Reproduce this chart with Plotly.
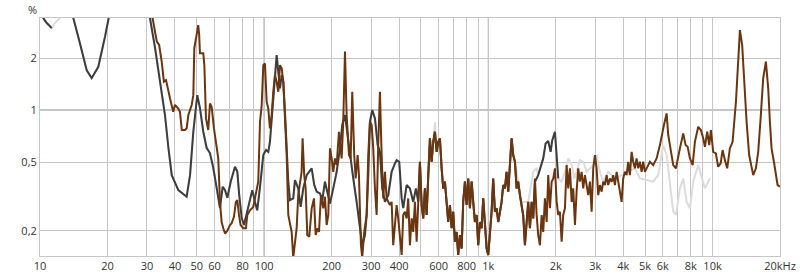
import plotly.graph_objects as go

# ---------------- data (frequency in Hz, distortion in %) ----------------
# light gray measurement: first dip at 10-12 Hz
light_start = [(10.2, 3.7), (10.35, 3.4), (10.75, 3.18), (11.28, 2.98), (11.67, 3.2),
               (12.28, 3.41), (12.5, 3.7)]
# dark gray measurement: first dip at 10-11 Hz
dark_start = [(10.2, 3.7), (10.35, 3.4), (10.75, 3.18), (11.28, 2.98)]

# common part of dark / light gray 14 Hz - 20 Hz
gray_dip = [(13.9, 3.7), (14.08, 3.41), (15.08, 2.43), (16.16, 1.70), (17.0, 1.53),
            (18.2, 1.78), (19.5, 2.66), (20.2, 3.4), (20.5, 3.7)]

# common part of dark / light gray 30 Hz - 475 Hz
gray_low = [(30.5, 3.7), (30.95, 3.40), (32.6, 2.29), (34.3, 1.45), (36.1, 0.936),
            (37.4, 0.603), (38.7, 0.420), (41.4, 0.344), (45.1, 0.315), (46.7, 0.420),
            (48.3, 0.749), (50.3, 1.22), (51.7, 1.03), (53.5, 0.749), (55.4, 0.603),
            (57.3, 0.564), (59.3, 0.462), (61.4, 0.353), (63.5, 0.271), (65.3, 0.360),
            (66.9, 0.344), (68.5, 0.311), (70.9, 0.385), (74.1, 0.470), (75.9, 0.439),
            (77.4, 0.322), (79.4, 0.237), (81.3, 0.216), (83.5, 0.247), (86.4, 0.294),
            (88.5, 0.344), (91.0, 0.294), (93.1, 0.263), (95.7, 0.353), (99.1, 0.549),
            (101.9, 0.587), (104.3, 0.573), (106.1, 0.655), (108.6, 0.936), (111.7, 1.595),
            (113.7, 2.08), (115.6, 1.667), (117.6, 1.335), (119.7, 1.595), (121.7, 1.458),
            (123.8, 0.978), (126.0, 0.603), (128.1, 0.385), (130.3, 0.301), (134.8, 0.308),
            (137.2, 0.393), (141.9, 0.352), (145.5, 0.275), (149.4, 0.352), (154.7, 0.420),
            (162.9, 0.460), (167.3, 0.368), (171.5, 0.337), (177.4, 0.329), (181.6, 0.301),
            (186.7, 0.385), (193.2, 0.322), (196.6, 0.288), (203.3, 0.352), (210.5, 0.439),
            (217.8, 0.600), (223.0, 0.819), (229.3, 0.936), (233.3, 0.783), (241.3, 0.549),
            (249.7, 0.402), (258.5, 0.294), (267.5, 0.207), (273.8, 0.165), (281.6, 0.189),
            (286.5, 0.247), (291.3, 0.420), (296.4, 0.856), (303.5, 1.0), (312.0, 0.895),
            (320.8, 0.627), (328.4, 0.573), (336.3, 0.352), (345.7, 0.294), (357.7, 0.322),
            (370.3, 0.439), (383.1, 0.491), (389.8, 0.513), (400.4, 0.502), (410.4, 0.308),
            (417.2, 0.271), (432.1, 0.368), (446.9, 0.352), (462.3, 0.294), (475.3, 0.352)]

# brown measurement 31 Hz - 480 Hz
brown_low = [(31.3, 3.7), (31.8, 3.40), (33.2, 2.49), (34.0, 2.38), (34.9, 1.91),
             (35.7, 1.46), (36.5, 1.49), (37.0, 1.36), (38.0, 1.17), (39.3, 0.978),
             (40.0, 1.07), (41.4, 1.02), (42.1, 0.978), (42.9, 0.766), (44.3, 0.766),
             (45.1, 0.783), (45.9, 0.936), (47.5, 1.07), (48.3, 1.22), (48.8, 2.28),
             (50.0, 2.72), (50.8, 3.10), (51.3, 2.72), (51.7, 2.13), (53.5, 2.13),
             (54.1, 1.82), (55.0, 0.895), (56.3, 0.766), (57.3, 1.09), (58.3, 1.045),
             (59.7, 0.783), (61.4, 0.600), (62.4, 0.525), (63.5, 0.294), (64.6, 0.225),
             (65.7, 0.207), (66.9, 0.193), (68.5, 0.200), (70.4, 0.216), (71.6, 0.221),
             (73.3, 0.241), (74.8, 0.294), (75.9, 0.301), (77.2, 0.247), (78.5, 0.216),
             (80.7, 0.207), (82.9, 0.207), (84.1, 0.247), (86.4, 0.263), (89.4, 0.275),
             (91.9, 0.322), (94.1, 0.385), (95.8, 0.856), (97.5, 1.07), (99.1, 1.82),
             (100.8, 1.86), (102.6, 1.117), (104.3, 1.023), (106.1, 0.783), (108.0, 0.936),
             (109.8, 1.276), (111.7, 1.595), (113.7, 1.458), (115.6, 1.276), (117.6, 1.82),
             (119.7, 1.744), (121.7, 1.458), (123.8, 0.978), (126.0, 0.549), (128.1, 0.247),
             (130.3, 0.225), (132.6, 0.197), (134.8, 0.14), (137.2, 0.165), (139.6, 0.207),
             (141.9, 0.322), (144.4, 0.385), (146.9, 0.439), (148.4, 0.686), (150.9, 0.420),
             (153.1, 0.352), (155.7, 0.189), (158.9, 0.185), (162.9, 0.270), (166.8, 0.308),
             (169.7, 0.189), (173.2, 0.207), (175.6, 0.197), (179.2, 0.322), (183.5, 0.270),
             (186.7, 0.315), (190.0, 0.216), (193.2, 0.247), (196.6, 0.600), (200.0, 0.525),
             (203.3, 0.439), (206.9, 0.525), (210.5, 0.480), (215.6, 0.749), (221.6, 0.525),
             (225.3, 0.856), (229.3, 2.18), (233.3, 0.936), (238.9, 0.549), (243.1, 0.525),
             (247.1, 1.276), (252.2, 0.549), (255.9, 0.402), (261.2, 0.549), (264.7, 0.420),
             (270.2, 0.165), (273.8, 0.14), (279.5, 0.197), (286.5, 0.247), (291.3, 0.549),
             (296.4, 0.856), (301.6, 0.819), (306.6, 0.600), (312.0, 0.352), (317.4, 0.247),
             (322.7, 0.627), (328.4, 1.276), (334.2, 0.549), (339.7, 0.308), (345.7, 0.439),
             (351.8, 0.308), (363.9, 0.282), (370.3, 0.294), (376.4, 0.165), (383.1, 0.207),
             (389.8, 0.282), (396.3, 0.236), (403.3, 0.189), (410.4, 0.145), (417.2, 0.247),
             (424.6, 0.258), (432.1, 0.236), (439.2, 0.308), (446.9, 0.165), (454.8, 0.236),
             (462.3, 0.197), (470.5, 0.294), (478.8, 0.173)]

# common part of all three measurements 487 Hz - 568 Hz
mid_a = [(486.7, 0.294), (495.3, 0.502), (504.0, 0.282), (512.3, 0.236), (521.3, 0.352),
         (530.5, 0.247), (539.3, 0.420), (548.8, 0.686), (558.5, 0.502), (567.7, 0.655)]

# 600 Hz peak
brown_peak600 = [(577.7, 0.749)]
light_peak600 = [(577.7, 0.85)]

# common part of all three measurements 588 Hz - 1.3 kHz
mid_b = [(587.9, 0.573), (597.6, 0.655), (608.1, 0.686), (618.8, 0.460), (629.0, 0.352),
         (640.1, 0.385), (651.4, 0.294), (662.2, 0.225), (673.9, 0.282), (685.8, 0.207),
         (697.1, 0.258), (709.4, 0.173), (721.9, 0.197), (733.8, 0.145), (746.8, 0.189),
         (760.0, 0.158), (772.5, 0.294), (786.2, 0.385), (800.0, 0.282), (813.3, 0.402),
         (827.6, 0.270), (842.2, 0.385), (856.1, 0.294), (871.3, 0.225), (886.6, 0.247),
         (901.3, 0.165), (917.2, 0.225), (933.3, 0.207), (948.8, 0.308), (965.4, 0.207),
         (982.4, 0.158), (998.9, 0.145), (1016, 0.197), (1034, 0.258), (1051, 0.402),
         (1070, 0.258), (1089, 0.270), (1107, 0.225), (1127, 0.258), (1146, 0.294),
         (1165, 0.368), (1186, 0.352), (1206, 0.439), (1227, 0.337), (1248, 0.480),
         (1270, 0.686), (1291, 0.549), (1314, 0.502)]

# dark gray measurement 1.3 kHz - 2 kHz
dark_high = [(1337, 0.352), (1359, 0.385), (1383, 0.322), (1407, 0.270), (1430, 0.247),
             (1456, 0.165), (1482, 0.225), (1506, 0.294), (1533, 0.207), (1560, 0.294),
             (1586, 0.236), (1614, 0.385), (1669, 0.420), (1757, 0.525), (1801, 0.641),
             (1850, 0.662), (1896, 0.573), (1928, 0.670), (1982, 0.749), (2017, 0.549),
             (2050, 0.402)]

# light gray measurement 1.4 kHz - 10 kHz
light_high = [(1407, 0.294), (1506, 0.294), (1586, 0.439), (1642, 0.462), (1669, 0.420),
              (1757, 0.525), (1801, 0.641), (1850, 0.662), (1896, 0.573), (1928, 0.670),
              (1982, 0.749), (2017, 0.549), (2050, 0.402), (2123, 0.385), (2196, 0.439),
              (2272, 0.525), (2353, 0.480), (2416, 0.402), (2476, 0.439), (2561, 0.513),
              (2650, 0.502), (2744, 0.439), (2839, 0.460), (2937, 0.480), (3041, 0.549),
              (3146, 0.439), (3254, 0.385), (3425, 0.439), (3670, 0.402), (3931, 0.420),
              (4206, 0.439), (4506, 0.460), (4743, 0.402), (5082, 0.393), (5438, 0.385),
              (5727, 0.420), (6027, 0.627), (6242, 0.549), (6457, 0.385), (6679, 0.258),
              (6867, 0.247), (7154, 0.352), (7400, 0.402), (7665, 0.294), (7930, 0.270),
              (8200, 0.385), (8633, 0.480), (8941, 0.402), (9249, 0.352), (9732, 0.402)]

# brown measurement 1.3 kHz - 20 kHz
brown_high = [(1337, 0.352), (1359, 0.385), (1383, 0.322), (1407, 0.270), (1430, 0.247),
              (1456, 0.165), (1482, 0.225), (1506, 0.294), (1533, 0.207), (1560, 0.294),
              (1586, 0.236), (1614, 0.402), (1642, 0.247), (1669, 0.189), (1699, 0.165),
              (1729, 0.247), (1757, 0.197), (1788, 0.308), (1820, 0.225), (1850, 0.420),
              (1883, 0.270), (1916, 0.385), (1948, 0.402), (1982, 0.460), (2017, 0.294),
              (2050, 0.247), (2086, 0.258), (2123, 0.173), (2158, 0.247), (2196, 0.270),
              (2235, 0.480), (2272, 0.352), (2312, 0.460), (2353, 0.294), (2391, 0.352),
              (2434, 0.216), (2476, 0.337), (2517, 0.460), (2561, 0.385), (2607, 0.439),
              (2650, 0.352), (2697, 0.420), (2744, 0.368), (2789, 0.322), (2839, 0.385),
              (2889, 0.258), (2937, 0.460), (2989, 0.549), (3041, 0.460), (3091, 0.322),
              (3146, 0.368), (3201, 0.337), (3254, 0.385), (3311, 0.368), (3370, 0.420),
              (3425, 0.368), (3486, 0.402), (3548, 0.385), (3606, 0.420), (3670, 0.368),
              (3735, 0.439), (3796, 0.385), (3863, 0.322), (3931, 0.294), (3996, 0.402),
              (4066, 0.439), (4138, 0.420), (4206, 0.502), (4280, 0.420), (4356, 0.573),
              (4428, 0.502), (4506, 0.460), (4585, 0.525), (4661, 0.460), (4743, 0.502),
              (4827, 0.439), (4906, 0.502), (4993, 0.439), (5082, 0.460), (5257, 0.502),
              (5438, 0.480), (5631, 0.525), (5826, 0.627), (5929, 0.717), (6072, 0.819),
              (6242, 0.957), (6345, 0.717), (6457, 0.627), (6571, 0.549), (6679, 0.480),
              (6867, 0.460), (7030, 0.525), (7154, 0.600), (7400, 0.733), (7586, 0.627),
              (7745, 0.613), (7930, 0.525), (8153, 0.480), (8346, 0.655), (8633, 0.800),
              (8877, 0.766), (9088, 0.686), (9249, 0.613), (9471, 0.749), (9667, 0.627),
              (9837, 0.766), (10070, 0.573), (10350, 0.562), (10600, 0.470), (10870, 0.491),
              (11090, 0.587), (11360, 0.513), (11630, 0.460), (11950, 0.600), (12290, 0.655),
              (12720, 1.117), (13020, 2.08), (13250, 2.90), (13560, 2.38), (13840, 1.458),
              (14190, 0.856), (14570, 0.549), (14940, 0.460), (15190, 0.420), (15610, 0.460),
              (15990, 0.573), (16390, 0.895), (16830, 1.526), (17300, 1.905), (17720, 1.335),
              (18030, 0.856), (18340, 0.600), (18790, 0.502), (19170, 0.420), (19510, 0.368),
              (19970, 0.360)]

x_tick_vals = [10, 20, 30, 40, 50, 60, 70, 80, 90, 100, 200, 300, 400, 500, 600, 700, 800, 900,
               1000, 2000, 3000, 4000, 5000, 6000, 7000, 8000, 9000, 10000, 20000]
x_tick_text = ["10", "20", "30", "40", "50", "60", "", "80", "", "100", "200", "300", "400", "",
               "600", "", "800", "", "1k", "2k", "3k", "4k", "5k", "6k", "", "8k", "", "10k",
               "20kHz"]
y_tick_vals = [0.2, 0.5, 1, 2]
y_tick_text = ["0,2", "0,5", "1", "2"]
major_x_lines = [100, 1000, 10000]
major_y_lines = [1]


def join(*segments):
    """Concatenate point segments; a string 'gap' entry breaks the line."""
    xs, ys = [], []
    for seg in segments:
        if seg == "gap":
            xs.append(None)
            ys.append(None)
            continue
        for f, v in seg:
            xs.append(f)
            ys.append(v)
    return xs, ys


light_x, light_y = join(light_start, "gap", gray_dip, "gap", gray_low, mid_a,
                        light_peak600, mid_b, light_high)
dark_x, dark_y = join(dark_start, "gap", gray_dip, "gap", gray_low, mid_a,
                      brown_peak600, mid_b, dark_high)
brown_x, brown_y = join(brown_low, mid_a, brown_peak600, mid_b, brown_high)

LIGHT = "#dcdcdc"
DARK = "#3d3d3d"
BROWN = "#6b3510"
GRID = "#c6c6c6"
GRID_MAJOR = "#808080"

fig = go.Figure()
fig.add_trace(go.Scatter(x=light_x, y=light_y, mode="lines",
                         line=dict(color=LIGHT, width=2), hoverinfo="skip"))
fig.add_trace(go.Scatter(x=dark_x, y=dark_y, mode="lines",
                         line=dict(color=DARK, width=2), hoverinfo="skip"))
fig.add_trace(go.Scatter(x=brown_x, y=brown_y, mode="lines",
                         line=dict(color=BROWN, width=2), hoverinfo="skip"))

for xv in major_x_lines:
    fig.add_shape(type="line", xref="x", yref="paper", x0=xv, x1=xv, y0=0, y1=1,
                  line=dict(color=GRID_MAJOR, width=1), layer="between")
for yv in major_y_lines:
    fig.add_shape(type="line", xref="paper", yref="y", x0=0, x1=1, y0=yv, y1=yv,
                  line=dict(color=GRID_MAJOR, width=1), layer="between")

fig.add_annotation(text="%", xref="paper", yref="paper", x=0, y=1,
                   xanchor="right", yanchor="bottom", xshift=-1, yshift=-1,
                   showarrow=False, font=dict(family="Open Sans", size=11, color="#333333"))

fig.update_layout(
    width=800, height=280,
    margin=dict(l=40, r=20, t=18, b=24, autoexpand=False),
    paper_bgcolor="white", plot_bgcolor="white",
    showlegend=False,
    font=dict(family="Open Sans", size=11, color="#333333"),
    xaxis=dict(type="log", range=[1, 4.30103], tickmode="array",
               tickvals=x_tick_vals, ticktext=x_tick_text, automargin=False,
               showgrid=True, gridcolor=GRID, gridwidth=1, zeroline=False,
               showline=True, linecolor=GRID, linewidth=1, mirror=True,
               ticks="", tickfont=dict(size=11, color="#333333")),
    yaxis=dict(type="log", range=[-0.8447, 0.5328], tickmode="array",
               tickvals=y_tick_vals, ticktext=y_tick_text, automargin=False,
               showgrid=True, gridcolor=GRID, gridwidth=1, zeroline=False,
               showline=True, linecolor=GRID, linewidth=1, mirror=True,
               ticks="", tickfont=dict(size=11, color="#333333")),
)

fig.write_html("out.html")
